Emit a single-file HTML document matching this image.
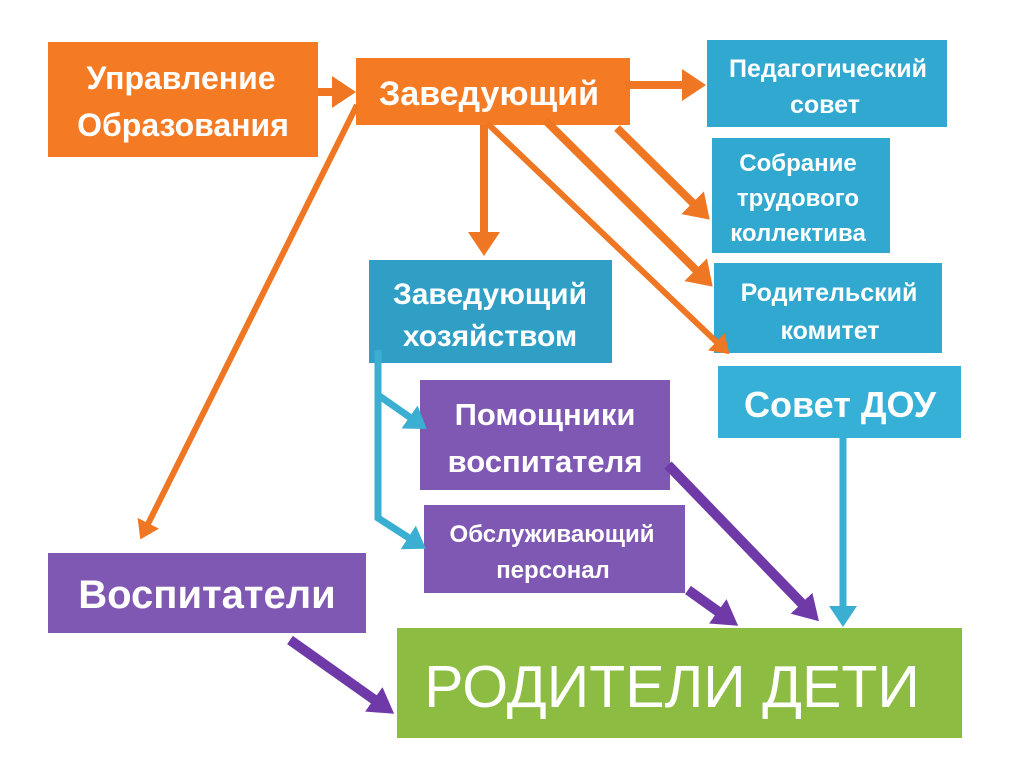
<!DOCTYPE html>
<html><head><meta charset="utf-8"><style>
body{margin:0;background:#fff}
svg text{font-family:"Liberation Sans",sans-serif;fill:#fff;text-anchor:middle}
</style></head><body>
<svg width="1024" height="768" viewBox="0 0 1024 768">
<defs>
<marker id="mo" markerWidth="4" markerHeight="4" refX="2" refY="2" orient="auto" markerUnits="strokeWidth"><path d="M0,0L3,2L0,4z" fill="#ef7622"/></marker>
<marker id="mb" markerWidth="4" markerHeight="4" refX="2" refY="2" orient="auto" markerUnits="strokeWidth"><path d="M0,0L3,2L0,4z" fill="#3aafd2"/></marker>
<marker id="mp" markerWidth="3" markerHeight="3" refX="1.5" refY="1.5" orient="auto" markerUnits="strokeWidth"><path d="M0,0L2.5,1.5L0,3z" fill="#6f3aa8"/></marker>
</defs>
<rect x="48" y="42" width="270" height="115" fill="#f47b24"/>
<rect x="356" y="58" width="274" height="67" fill="#f47b24"/>
<rect x="707" y="40" width="240" height="87" fill="#31a8d0"/>
<rect x="712" y="138" width="178" height="115" fill="#31a8d0"/>
<rect x="714" y="263" width="228" height="90" fill="#31a8d0"/>
<rect x="369" y="260" width="243" height="103" fill="#2f9fc6"/>
<rect x="718" y="366" width="243" height="72" fill="#36b0d6"/>
<rect x="420" y="380" width="250" height="110" fill="#7e58b3"/>
<rect x="424" y="505" width="261" height="88" fill="#7e58b3"/>
<rect x="48" y="553" width="318" height="80" fill="#7e58b3"/>
<rect x="397" y="628" width="565" height="110" fill="#8dbc43"/>
<g stroke="#ef7622" stroke-width="8" fill="none">
<line x1="318" y1="92" x2="348" y2="92" marker-end="url(#mo)"/>
<line x1="625" y1="85" x2="698" y2="85" marker-end="url(#mo)"/>
<line x1="484" y1="125" x2="484" y2="248" marker-end="url(#mo)"/>
<line x1="617" y1="128" x2="704" y2="214" marker-end="url(#mo)"/>
<line x1="545" y1="120" x2="707" y2="281" marker-end="url(#mo)"/>
<line x1="487" y1="123" x2="725" y2="350" stroke-width="6" marker-end="url(#mo)"/>
<line x1="357" y1="105" x2="143" y2="534" stroke-width="6" marker-end="url(#mo)"/>
</g>
<g stroke="#3aafd2" stroke-width="7" fill="none">
<polyline points="378,350 378,518 420,545" marker-end="url(#mb)"/>
<line x1="378" y1="395" x2="421" y2="425" marker-end="url(#mb)"/>
<line x1="843" y1="438" x2="843" y2="620" marker-end="url(#mb)"/>
</g>
<g stroke="#6f3aa8" stroke-width="10" fill="none">
<line x1="668" y1="465" x2="812" y2="614" marker-end="url(#mp)"/>
<line x1="688" y1="590" x2="730" y2="620" marker-end="url(#mp)"/>
<line x1="290" y1="640" x2="386" y2="708" marker-end="url(#mp)"/>
</g>
<g font-weight="bold">
<text x="181" y="89" font-size="32">Управление</text>
<text x="183" y="136" font-size="32">Образования</text>
<text x="489" y="105" font-size="34">Заведующий</text>
<text x="828" y="77" font-size="25">Педагогический</text>
<text x="825" y="113" font-size="25">совет</text>
<text x="798" y="171" font-size="24">Собрание</text>
<text x="798" y="206" font-size="24">трудового</text>
<text x="798" y="241" font-size="24">коллектива</text>
<text x="829" y="301" font-size="25">Родительский</text>
<text x="830" y="339" font-size="25">комитет</text>
<text x="490" y="304" font-size="30">Заведующий</text>
<text x="490" y="346" font-size="30">хозяйством</text>
<text x="840" y="417" font-size="36">Совет ДОУ</text>
<text x="545" y="425" font-size="31">Помощники</text>
<text x="545" y="472" font-size="31">воспитателя</text>
<text x="552" y="542" font-size="24">Обслуживающий</text>
<text x="553" y="578" font-size="24">персонал</text>
<text x="207" y="608" font-size="40">Воспитатели</text>
<text x="672" y="707" font-size="59" font-weight="normal">РОДИТЕЛИ ДЕТИ</text>
</g>
</svg>
</body></html>
